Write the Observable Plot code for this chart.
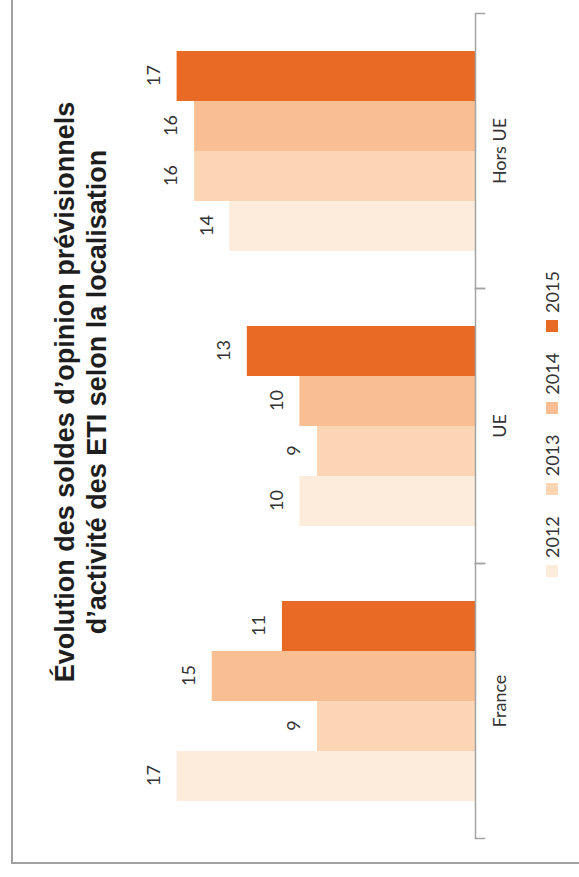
<!DOCTYPE html>
<html>
<head>
<meta charset="utf-8">
<script src="https://cdn.jsdelivr.net/npm/d3@7"></script>
<script src="https://cdn.jsdelivr.net/npm/@observablehq/plot@0.6"></script>
<style>
  html, body { margin: 0; padding: 0; background: #fff; width: 579px; height: 877px; overflow: hidden; }
  #stage {
    position: absolute; left: 0; top: 0; width: 877px; height: 579px;
    transform-origin: 0 0; transform: translate(0px, 877px) rotate(-90deg);
    background: #fff;
  }
  #border {
    position: absolute; left: 13px; top: 11px; width: 900px; height: 600px;
    border-top: 2px solid #a0a0a0; border-left: 2px solid #a0a0a0; box-sizing: border-box;
  }
  #title {
    position: absolute; left: 85px; width: 800px; top: 49px;
    text-align: center; font-family: "Liberation Sans", Arial, sans-serif; font-weight: bold;
    font-size: 27px; line-height: 32px; color: #1e1e1e;
  }
  #chart { position: absolute; left: 0; top: 130px; }
  #legend {
    position: absolute; left: 300px; top: 540px; height: 24px; display: flex; align-items: center;
    font-family: Lato, "Liberation Sans", sans-serif; font-size: 18px; color: #333;
  }
  .item { display: flex; align-items: center; width: 81.7px; }
  .sw { width: 12px; height: 12px; margin-right: 7px; }
</style>
</head>
<body>
<div id="stage">
  <div id="border"></div>
  <div id="title">Évolution des soldes d’opinion prévisionnels<br>d’activité des ETI selon la localisation</div>
  <div id="chart"></div>
  <div id="legend"></div>
</div>
<script>
const categories = ["France", "UE", "Hors UE"];
const years = ["2012", "2013", "2014", "2015"];
const v2012 = [17, 10, 14];
const v2013 = [9, 9, 16];
const v2014 = [15, 10, 16];
const v2015 = [11, 13, 17];
const colors = ["#FDEBDB", "#FCD5B4", "#F9BE91", "#E86A24"];

const series = [v2012, v2013, v2014, v2015];
const data = categories.flatMap((c, i) => years.map((y, j) => ({category: c, year: y, value: series[j][i]})));

const axisColor = "#a3a3a3";
const plot = Plot.plot({
  width: 877,
  height: 449,
  marginLeft: 38,
  marginRight: 14,
  marginTop: 46.6,
  marginBottom: 104,
  fx: {domain: categories, padding: 0, axis: null},
  x: {domain: years, paddingInner: 0, paddingOuter: 0.75, axis: null},
  y: {domain: [0, 17], axis: null},
  color: {domain: years, range: colors},
  style: {fontFamily: "Lato, 'Liberation Sans', sans-serif", fontSize: "18px", background: "transparent", overflow: "visible"},
  marks: [
    Plot.barY(data, {fx: "category", x: "year", y: "value", fill: "year"}),
    Plot.ruleY([0], {stroke: axisColor, strokeWidth: 1.5}),
    Plot.frame({anchor: "left", stroke: axisColor, strokeWidth: 1.5, insetTop: 298.4, insetBottom: -9}),
    Plot.frame({anchor: "right", stroke: axisColor, strokeWidth: 1.5, insetTop: 298.4, insetBottom: -9}),
    Plot.text(data, {fx: "category", x: "year", y: "value", text: d => String(d.value), dy: -23, fill: "#333"}),
    Plot.text(categories, {fx: d => d, text: d => d, frameAnchor: "bottom", dy: 30, fill: "#333"})
  ]
});
document.getElementById("chart").appendChild(plot);

const legend = document.getElementById("legend");
years.forEach((y, j) => {
  const it = document.createElement("div");
  it.className = "item";
  const sw = document.createElement("span");
  sw.className = "sw";
  sw.style.background = colors[j];
  const t = document.createElement("span");
  t.textContent = y;
  it.appendChild(sw); it.appendChild(t);
  legend.appendChild(it);
});
</script>
</body>
</html>
